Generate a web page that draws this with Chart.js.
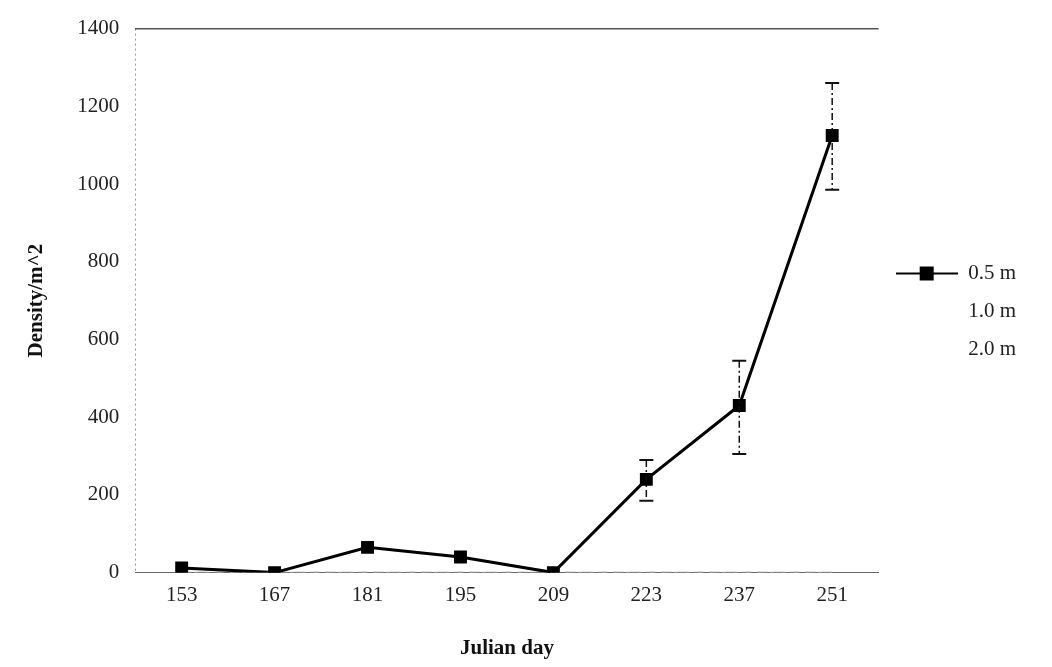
<!DOCTYPE html>
<html>
<head>
<meta charset="utf-8">
<script src="https://cdn.jsdelivr.net/npm/chart.js@4/dist/chart.umd.min.js"></script>
<style>
  body { margin: 0; background: #fff; }
  #wrap { width: 1052px; height: 667px; }
</style>
</head>
<body>
<div id="wrap"><canvas id="densityChart"></canvas></div>
<script>
const julianDays = ['153', '167', '181', '195', '209', '223', '237', '251'];
const density05 = [12, 0, 65, 40, 0, 240, 430, 1125];
const density10 = [0, 0, 0, 0, 0, 0, 0, 0];
const density20 = [0, 0, 0, 0, 0, 0, 0, 0];
const errLow05 = [null, null, null, null, null, 185, 305, 985];
const errHigh05 = [null, null, null, null, null, 290, 545, 1260];
const yTicks = [0, 200, 400, 600, 800, 1000, 1200, 1400];

document.addEventListener('DOMContentLoaded', function () {
    const ctx = document.getElementById('densityChart').getContext('2d');

    // legend symbol: line with square marker in the middle
    function lineMarkerIcon(withMarker) {
        const c = document.createElement('canvas');
        c.width = 62; c.height = 16;
        const g = c.getContext('2d');
        if (withMarker) {
            g.strokeStyle = '#000';
            g.lineWidth = 2;
            g.beginPath(); g.moveTo(0, 8); g.lineTo(62, 8); g.stroke();
            g.fillStyle = '#000';
            g.fillRect(24, 1, 14, 14);
        }
        return c;
    }

    const errorBars = {
        id: 'errorBars',
        afterDatasetsDraw(chart) {
            const meta = chart.getDatasetMeta(0);
            const y = chart.scales.y;
            const c = chart.ctx;
            c.save();
            c.strokeStyle = '#111';
            meta.data.forEach((pt, i) => {
                if (errLow05[i] == null) return;
                const yLo = y.getPixelForValue(errLow05[i]);
                const yHi = y.getPixelForValue(errHigh05[i]);
                c.lineWidth = 1.5;
                c.setLineDash([7, 3, 2, 3]);
                c.beginPath(); c.moveTo(pt.x, yHi); c.lineTo(pt.x, yLo); c.stroke();
                c.setLineDash([]);
                c.lineWidth = 2;
                c.beginPath();
                c.moveTo(pt.x - 7, yHi); c.lineTo(pt.x + 7, yHi);
                c.moveTo(pt.x - 7, yLo); c.lineTo(pt.x + 7, yLo);
                c.stroke();
            });
            c.restore();
        }
    };

    new Chart(ctx, {
        type: 'line',
        data: {
            labels: julianDays,
            datasets: [
                {
                    label: '0.5 m',
                    data: density05,
                    borderColor: '#000',
                    backgroundColor: '#000',
                    borderWidth: 3,
                    pointStyle: 'rect',
                    pointRadius: 7,
                    tension: 0
                },
                {
                    label: '1.0 m',
                    data: density10,
                    borderColor: '#9a9a9a',
                    borderWidth: 1.5,
                    borderDash: [10, 6],
                    pointRadius: 0
                },
                {
                    label: '2.0 m',
                    data: density20,
                    borderColor: '#bdbdbd',
                    borderWidth: 1.5,
                    borderDash: [4, 8],
                    pointRadius: 0
                }
            ]
        },
        options: {
            responsive: true,
            maintainAspectRatio: false,
            animation: false,
            layout: { padding: { top: -4, right: 26, bottom: 2, left: 20 } },
            plugins: {
                tooltip: { enabled: false },
                legend: {
                    position: 'right',
                    align: 'center',
                    labels: {
                        usePointStyle: true,
                        pointStyleWidth: 62,
                        boxHeight: 16,
                        padding: 17,
                        color: '#222',
                        font: { family: 'Liberation Serif', size: 21 },
                        generateLabels: function (chart) {
                            const items = chart.data.datasets.map((ds, i) => ({
                                text: ds.label,
                                pointStyle: lineMarkerIcon(i === 0),
                                fillStyle: 'transparent',
                                strokeStyle: 'transparent',
                                lineWidth: 0,
                                datasetIndex: i,
                                fontColor: '#222'
                            }));
                            // blank spacer row so the entries sit a little higher
                            items.push({
                                text: '',
                                pointStyle: lineMarkerIcon(false),
                                fillStyle: 'transparent',
                                strokeStyle: 'transparent',
                                lineWidth: 0,
                                fontColor: '#222'
                            });
                            return items;
                        }
                    }
                }
            },
            scales: {
                x: {
                    offset: true,
                    grid: {
                        offset: true,
                        drawTicks: false,
                        lineWidth: 1,
                        color: c => c.index === 0 ? '#999' : 'transparent'
                    },
                    border: { display: true, color: '#666', width: 1, dash: [2, 3] },
                    ticks: {
                        padding: 10,
                        color: '#222',
                        font: { family: 'Liberation Serif', size: 21 }
                    },
                    title: {
                        display: true,
                        text: 'Julian day',
                        color: '#111',
                        padding: { top: 18 },
                        font: { family: 'Liberation Serif', size: 21, weight: 'bold' }
                    }
                },
                y: {
                    min: 0,
                    max: 1400,
                    afterBuildTicks: function (axis) {
                        axis.ticks = yTicks.map(v => ({ value: v }));
                    },
                    grid: {
                        drawTicks: false,
                        lineWidth: 1.5,
                        color: c => c.tick && c.tick.value === 1400 ? '#555' : 'transparent'
                    },
                    border: { display: false },
                    ticks: {
                        padding: 16,
                        color: '#222',
                        font: { family: 'Liberation Serif', size: 21 },
                        callback: v => String(v)
                    },
                    title: {
                        display: true,
                        text: 'Density/m^2',
                        color: '#111',
                        padding: { bottom: 12 },
                        font: { family: 'Liberation Serif', size: 21, weight: 'bold' }
                    }
                }
            }
        },
        plugins: [errorBars]
    });
});
</script>
</body>
</html>
